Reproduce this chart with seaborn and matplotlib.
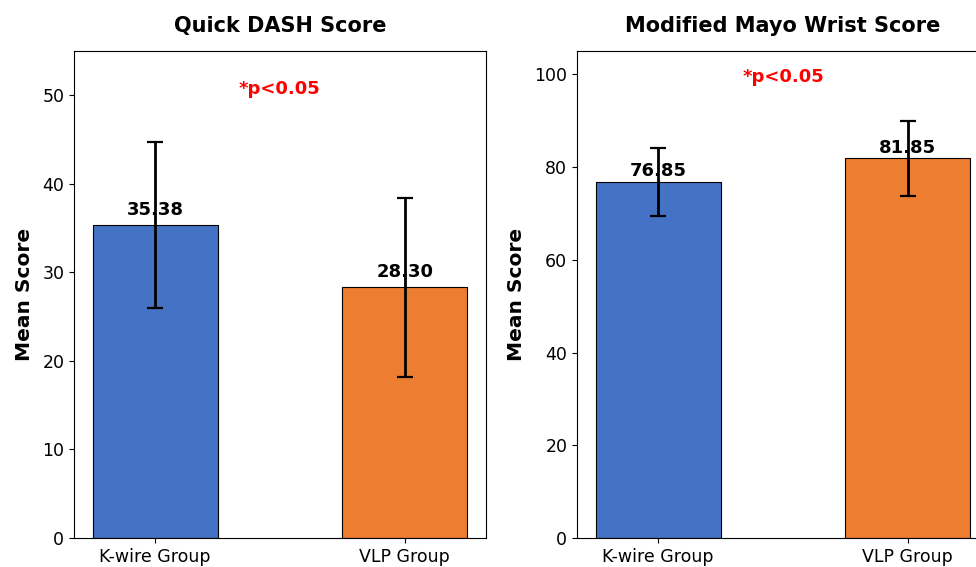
import matplotlib
matplotlib.use("Agg")
import matplotlib.pyplot as plt
import numpy as np
import pandas as pd
import seaborn as sns

# ---- data ----
groups = ["K-wire Group", "VLP Group"]
dash_mean = [35.38, 28.30]
dash_sd = [9.4, 10.1]
mayo_mean = [76.85, 81.85]
mayo_sd = [7.35, 8.05]
bar_colors = ["#4472C4", "#ED7D31"]

panels = [
    ("Quick DASH Score", dash_mean, dash_sd, 55, 50.7, 1.7),
    ("Modified Mayo Wrist Score", mayo_mean, mayo_sd, 105, 99.4, 2.3),
]

fig = plt.figure(figsize=(9.76, 5.67), dpi=100)
ax1 = fig.add_axes([0.0758, 0.0511, 0.4221, 0.8589])
ax2 = fig.add_axes([0.5912, 0.0511, 0.4221, 0.8589])

for ax, (title, means, sds, ytop, ptxt, off) in zip([ax1, ax2], panels):
    df = pd.DataFrame({"group": groups, "mean": means})
    sns.barplot(data=df, x="group", y="mean", hue="group", palette=bar_colors,
                saturation=1, width=0.5, edgecolor="black", linewidth=0.8,
                errorbar=None, legend=False, ax=ax)
    ax.errorbar(np.arange(len(groups)), means, yerr=sds, fmt="none",
                ecolor="black", elinewidth=2, capsize=6, capthick=1.6)
    for i, m in enumerate(means):
        ax.text(i, m + off, f"{m:.2f}", ha="center", va="center",
                fontsize=13, fontweight="bold")
    ax.text(0.5, ptxt, "*p<0.05", ha="center", va="center", color="red",
            fontsize=13, fontweight="bold")
    ax.set_xlim(-0.325, 1.325)
    ax.set_ylim(0, ytop)
    ax.set_title(title, fontsize=15, fontweight="bold", pad=14)
    ax.set_xlabel("")
    ax.set_ylabel("Mean Score", fontsize=14.5, fontweight="bold", labelpad=6)
    ax.tick_params(axis="both", labelsize=12.5)

fig.savefig("out.png", dpi=100)
